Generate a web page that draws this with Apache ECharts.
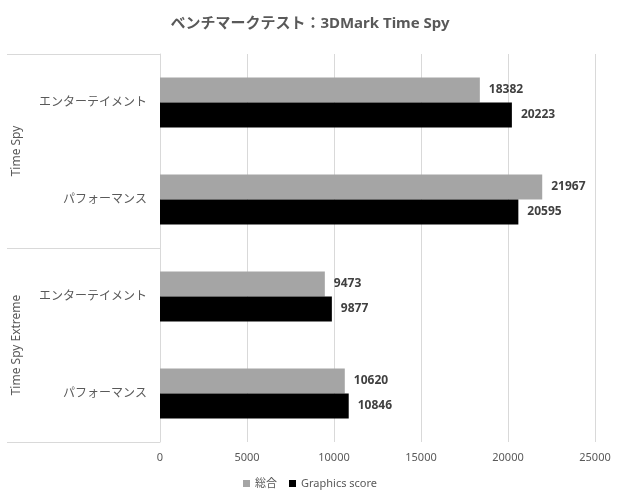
<!DOCTYPE html>
<html><head><meta charset="utf-8">
<script src="https://cdn.jsdelivr.net/npm/echarts@6/dist/echarts.min.js"></script>
<style>html,body{margin:0;padding:0;background:#fff}#c{width:620px;height:500px}</style>
</head><body><div id="c"></div>
<script>
const categories = ['エンターテイメント', 'パフォーマンス', 'エンターテイメント', 'パフォーマンス'];
const groups = ['Time Spy', 'Time Spy Extreme'];
const totalScore = [18382, 21967, 9473, 10620];
const graphicsScore = [20223, 20595, 9877, 10846];
const seriesNames = ['総合', 'Graphics score'];
const xTicks = { min: 0, max: 25000, interval: 5000 };

const FONT = "'Noto Sans', 'Noto Sans CJK JP', sans-serif";
const chart = echarts.init(document.getElementById('c'));
chart.setOption({
  backgroundColor: '#fff',
  textStyle: { fontFamily: FONT },
  title: {
    text: 'ベンチマークテスト：3DMark Time Spy',
    left: 'center', top: 11,
    textStyle: { fontSize: 15, fontWeight: 'bold', color: '#595959', fontFamily: FONT }
  },
  legend: {
    data: seriesNames, bottom: 6, left: 'center',
    itemWidth: 7, itemHeight: 7, itemGap: 12, icon: 'rect',
    textStyle: { fontSize: 11, color: '#595959', fontFamily: FONT }
  },
  grid: { left: 160, right: 25, top: 54, bottom: 58, containLabel: false },
  xAxis: {
    type: 'value', min: xTicks.min, max: xTicks.max, interval: xTicks.interval,
    axisLine: { show: false }, axisTick: { show: false },
    splitLine: { lineStyle: { color: '#d9d9d9', width: 1 } },
    axisLabel: { color: '#595959', fontSize: 11, margin: 10, fontFamily: FONT, formatter: v => String(v) }
  },
  yAxis: [
    {
      type: 'category', data: categories, inverse: true,
      axisLine: { show: true, lineStyle: { color: '#d9d9d9' } },
      axisTick: { show: false },
      axisLabel: { color: '#595959', fontSize: 12, margin: 13, fontFamily: FONT }
    },
    {
      type: 'category', data: groups, inverse: true, position: 'left', offset: 0,
      axisLine: { show: false },
      axisTick: { show: true, length: 153, lineStyle: { color: '#d9d9d9' } },
      axisLabel: { rotate: 90, color: '#595959', fontSize: 12, margin: 137, fontFamily: FONT }
    }
  ],
  series: [
    {
      name: seriesNames[0], type: 'bar', data: totalScore, yAxisIndex: 0,
      barWidth: 25, barGap: '0%',
      itemStyle: { color: '#a5a5a5' },
      label: { show: true, position: 'right', distance: 9, color: '#404040', fontWeight: 'bold', fontSize: 12, fontFamily: FONT }
    },
    {
      name: seriesNames[1], type: 'bar', data: graphicsScore, yAxisIndex: 0,
      barWidth: 25, barGap: '0%',
      itemStyle: { color: '#000000' },
      label: { show: true, position: 'right', distance: 9, color: '#404040', fontWeight: 'bold', fontSize: 12, fontFamily: FONT }
    }
  ]
});
</script></body></html>
